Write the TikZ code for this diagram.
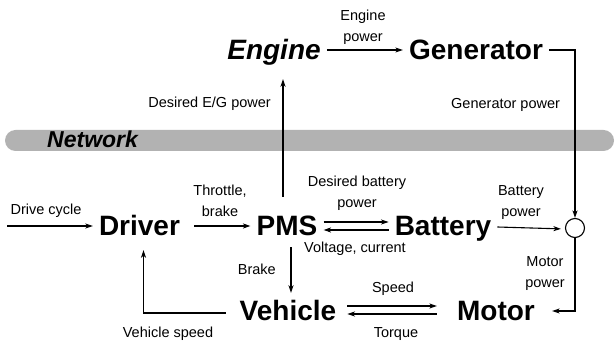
\documentclass[tikz,border=0pt]{standalone}
\usepackage{fontspec}
\setmainfont{Liberation Sans}
\usetikzlibrary{arrows.meta,positioning,calc}

\begin{document}
\begin{tikzpicture}[x=1pt, y=-1pt,
  blk/.style={font=\fontsize{28}{32}\selectfont\bfseries, inner ysep=0pt, inner xsep=6pt, text height=20pt, text depth=0pt},
  lbl/.style={font=\fontsize{14.5}{21.5}\selectfont, inner sep=0pt, align=center},
  band/.style={fill=gray!60, rounded corners=10.5pt, minimum width=609pt, minimum height=21pt, inner sep=0pt},
  junc/.style={draw, circle, line width=1.1pt, minimum size=19pt, inner sep=0pt},
  arr/.style={-{Stealth[length=7.5pt,width=5pt,inset=2pt]}, line width=1.1pt}]
\useasboundingbox (0,0) rectangle (616,344);
\node[band] (bus) at (309.5,140.5) {};
\node[anchor=base west, inner sep=0pt, font=\fontsize{23}{26}\selectfont\bfseries\itshape] (netlbl) at (47,148) {Network};
\node[blk] (engine) at (274,50) {\itshape Engine};
\node[blk] (gen) at (476,50) {Generator};
\node[blk] (driver) at (139.5,226) {Driver};
\node[blk] (pms) at (287,226) {PMS};
\node[blk] (batt) at (443,226) {Battery};
\node[blk] (veh) at (288,311) {Vehicle};
\node[blk] (motor) at (496,311) {Motor};
\node[junc] (sum) at (575,228) {};
\coordinate (dcin) at (7,226);
\node[lbl, anchor=base] (engpow) at (363,42) {Engine\\power};
\node[lbl, anchor=base east] (egdes) at (271,108) {Desired E/G power};
\node[lbl, anchor=base west] (genpow) at (451,109) {Generator power};
\node[lbl, anchor=base] (dclbl) at (46,215) {Drive cycle};
\node[lbl, anchor=base] (thrlbl) at (220,217) {Throttle,\\brake};
\node[lbl, anchor=base] (desbat) at (357,208) {Desired battery\\power};
\node[lbl, anchor=base] (volt) at (355,253) {Voltage, current};
\node[lbl, anchor=base] (batpow) at (521,217) {Battery\\power};
\node[lbl, anchor=base east] (brklbl) at (276,275) {Brake};
\node[lbl, anchor=base] (motpow) at (545,288) {Motor\\power};
\node[lbl, anchor=base] (spdlbl) at (393,293) {Speed};
\node[lbl, anchor=base] (torlbl) at (396,338) {Torque};
\node[lbl, anchor=base] (vslbl) at (168,338) {Vehicle speed};
\draw[arr] (engine.east) -- (gen.west);
\draw[arr] (gen.east) -| (sum.north);
\draw[arr] ([xshift=-4pt,yshift=19pt]pms.north) -- ([xshift=9pt,yshift=-19pt]engine.south);
\draw[arr] (dcin) -- (driver.west);
\draw[arr, shorten <=8pt] (driver.east) -- (pms.west);
\draw[arr] ([yshift=4pt]pms.east) -- ([yshift=4pt]batt.west);
\draw[arr] ([yshift=-4pt]batt.west) -- ([yshift=-4pt]pms.east);
\draw[arr, shorten >=4pt] ([yshift=-1pt]batt.east) -- ([yshift=-1pt]sum.west);
\draw[arr, shorten >=11pt] (sum.south) |- (motor.east);
\draw[arr] ([xshift=4pt,yshift=-11pt]pms.south) -- ([xshift=3pt,yshift=8pt]veh.north);
\draw[arr, shorten <=5pt, shorten >=14pt] ([yshift=5pt]veh.east) -- ([yshift=5pt]motor.west);
\draw[arr, shorten <=14pt, shorten >=5pt] ([yshift=-3pt]motor.west) -- ([yshift=-3pt]veh.east);
\draw[arr, shorten >=14pt] ([xshift=-8pt,yshift=-2pt]veh.west) -| ([xshift=4pt]driver.south);
\end{tikzpicture}
\end{document}
